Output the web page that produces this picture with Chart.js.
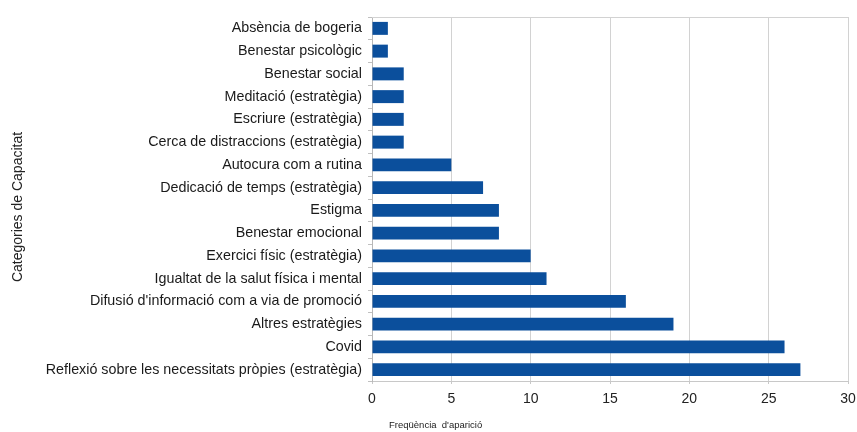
<!DOCTYPE html>
<html>
<head>
<meta charset="utf-8">
<script src="https://cdn.jsdelivr.net/npm/chart.js@4/dist/chart.umd.min.js"></script>
<style>
  html, body { margin: 0; padding: 0; background: #fff; }
  #wrap { width: 857px; height: 432px; }
</style>
</head>
<body>
<div id="wrap"><canvas id="grafica"></canvas></div>
<script>
const categories = [
    "Absència de bogeria",
    "Benestar psicològic",
    "Benestar social",
    "Meditació (estratègia)",
    "Escriure (estratègia)",
    "Cerca de distraccions (estratègia)",
    "Autocura com a rutina",
    "Dedicació de temps (estratègia)",
    "Estigma",
    "Benestar emocional",
    "Exercici físic (estratègia)",
    "Igualtat de la salut física i mental",
    "Difusió d'informació com a via de promoció",
    "Altres estratègies",
    "Covid",
    "Reflexió sobre les necessitats pròpies (estratègia)"
];
const frequencies = [1, 1, 2, 2, 2, 2, 5, 7, 8, 8, 10, 11, 16, 19, 26, 27];
const xTicks = [0, 5, 10, 15, 20, 25, 30];

const xTitle = "Freqüència  d'aparició";
const yTitle = "Categories de Capacitat";

Chart.defaults.font.family = "'Liberation Sans', Arial, sans-serif";
Chart.defaults.color = "#1e1e1e";

// marc superior de l'àrea de dibuix i títols dels eixos fora del centre
const marc = {
    id: "marc",
    afterDraw(chart) {
        const ctx = chart.ctx;
        const a = chart.chartArea;
        ctx.save();
        ctx.strokeStyle = "#d2d2d2";
        ctx.lineWidth = 1;
        ctx.beginPath();
        ctx.moveTo(a.left, a.top + 0.5);
        ctx.lineTo(a.right, a.top + 0.5);
        ctx.stroke();

        ctx.fillStyle = "#222";
        ctx.textBaseline = "middle";
        ctx.font = "9.5px 'Liberation Sans', Arial, sans-serif";
        ctx.fillText(xTitle, a.left + 17, 425);

        ctx.font = "14px 'Liberation Sans', Arial, sans-serif";
        ctx.textAlign = "center";
        ctx.translate(18, 207);
        ctx.rotate(-Math.PI / 2);
        ctx.fillText(yTitle, 0, 0);
        ctx.restore();
    }
};

new Chart(document.getElementById("grafica"), {
    type: "bar",
    data: {
        labels: categories,
        datasets: [{
            data: frequencies,
            backgroundColor: "#0b4f9c",
            borderWidth: 0,
            barPercentage: 0.57,
            categoryPercentage: 1
        }]
    },
    options: {
        indexAxis: "y",
        responsive: true,
        maintainAspectRatio: false,
        animation: false,
        layout: { padding: { top: 17, right: 0, left: 0, bottom: 0 } },
        plugins: {
            legend: { display: false },
            tooltip: { enabled: false }
        },
        scales: {
            x: {
                min: 0,
                max: 30,
                afterBuildTicks(scale) {
                    scale.ticks = xTicks.map(v => ({ value: v }));
                },
                afterFit(scale) {
                    scale.height = 51;
                    scale.paddingRight = 9;
                },
                grid: {
                    color: "#d2d2d2",
                    tickLength: 3,
                    tickColor: "#c8c8c8"
                },
                border: { color: "#c8c8c8" },
                ticks: {
                    padding: 7,
                    font: { size: 14 },
                    color: "#222"
                }
            },
            y: {
                afterFit(scale) { scale.width = 372; },
                grid: {
                    offset: true,
                    drawOnChartArea: false,
                    tickLength: 4,
                    tickColor: "#c0c0c0"
                },
                border: { color: "#b8b8b8" },
                ticks: {
                    padding: 6,
                    autoSkip: false,
                    font: { size: 14.3 },
                    color: "#1a1a1a"
                }
            }
        }
    },
    plugins: [marc]
});
</script>
</body>
</html>
